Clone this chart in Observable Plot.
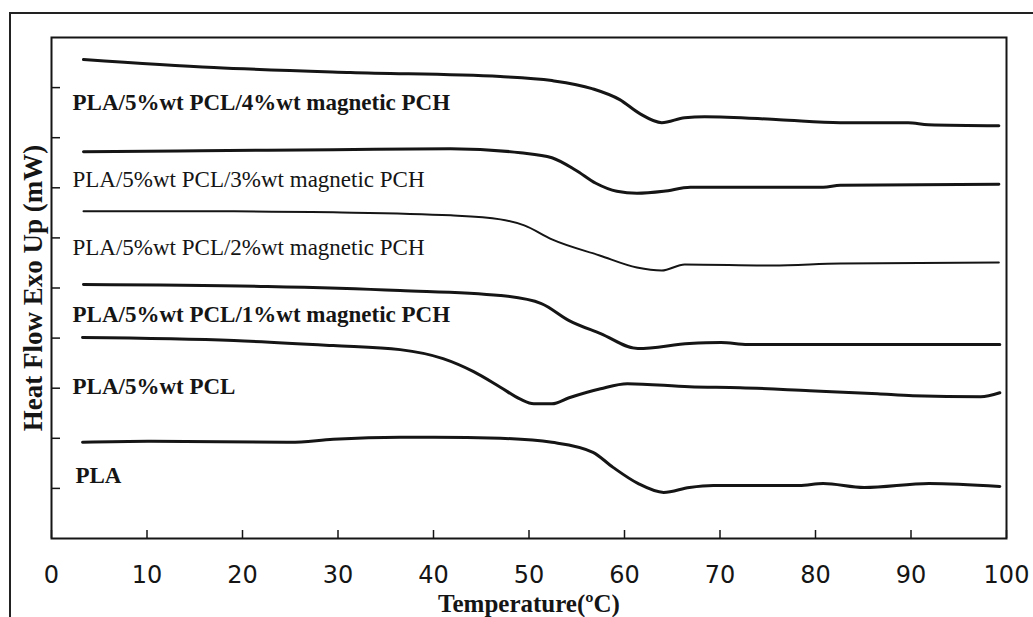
<!DOCTYPE html>
<html>
<head>
<meta charset="utf-8">
<script src="https://cdn.jsdelivr.net/npm/d3@7"></script>
<script src="https://cdn.jsdelivr.net/npm/@observablehq/plot@0.6"></script>
<style>
  html, body { margin: 0; padding: 0; background: #fff; overflow: hidden; }
  #wrap { position: relative; width: 1033px; height: 617px; }
  #border { position: absolute; left: 9px; top: 12px; width: 1040px; height: 620px;
            border-left: 2px solid #222; border-top: 2px solid #222; }
  #chart { position: absolute; left: 0; top: 0; }
  #chart svg { background: transparent; }
</style>
</head>
<body>
<div id="wrap"><div id="border"></div><div id="chart"></div></div>
<script>
// ---- data ----
const xTicks = [0, 10, 20, 30, 40, 50, 60, 70, 80, 90, 100];
const yTicks = [1, 2, 3, 4, 5, 6, 7, 8, 9];

const seriesNames = [
  "PLA/5%wt PCL/4%wt magnetic PCH",
  "PLA/5%wt PCL/3%wt magnetic PCH",
  "PLA/5%wt PCL/2%wt magnetic PCH",
  "PLA/5%wt PCL/1%wt magnetic PCH",
  "PLA/5%wt PCL",
  "PLA"
];

const t4 = [3.35, 17.0, 31.3, 47.0, 52.4, 56.6, 59.5, 61.6, 63.9, 66.3, 68.4, 76.2, 82.6, 89.7, 91.8, 99.2];
const h4 = [9.56, 9.40, 9.30, 9.22, 9.14, 8.98, 8.76, 8.48, 8.30, 8.40, 8.42, 8.36, 8.30, 8.30, 8.26, 8.24];

const t3 = [3.35, 15.6, 29.5, 41.8, 49.1, 52.4, 54.9, 57.0, 59.2, 61.3, 64.1, 66.9, 71.9, 80.8, 82.6, 99.2];
const h3 = [7.72, 7.74, 7.76, 7.78, 7.70, 7.60, 7.35, 7.09, 6.93, 6.89, 6.93, 7.01, 7.01, 7.01, 7.05, 7.07];

const t2 = [3.35, 19.1, 29.5, 41.8, 47.0, 49.5, 52.4, 57.4, 61.3, 63.9, 66.3, 75.5, 82.6, 99.2];
const h2 = [6.53, 6.53, 6.51, 6.45, 6.37, 6.25, 5.97, 5.65, 5.41, 5.35, 5.47, 5.45, 5.49, 5.51];

const t1 = [3.35, 22.6, 36.5, 47.0, 51.3, 54.2, 57.5, 61.4, 66.8, 70.1, 72.9, 99.3];
const h1 = [5.07, 5.03, 4.95, 4.85, 4.69, 4.35, 4.09, 3.79, 3.89, 3.91, 3.87, 3.87];

const t0 = [3.25, 19.1, 29.5, 36.5, 41.0, 44.2, 47.0, 49.1, 50.5, 52.4, 54.2, 57.5, 60.3, 66.8, 72.1, 79.4, 86.5, 90.2, 97.3, 99.3];
const h0 = [4.01, 3.95, 3.85, 3.77, 3.59, 3.33, 3.02, 2.78, 2.69, 2.69, 2.81, 2.99, 3.09, 3.03, 3.01, 2.95, 2.89, 2.85, 2.83, 2.91];

const tPLA = [3.25, 10.1, 25.0, 29.5, 36.5, 40.0, 47.0, 52.4, 56.7, 58.8, 61.4, 64.1, 66.8, 69.3, 78.3, 80.8, 85.1, 91.9, 99.3];
const hPLA = [1.92, 1.94, 1.92, 1.98, 2.02, 2.02, 2.00, 1.92, 1.72, 1.42, 1.10, 0.92, 1.02, 1.06, 1.06, 1.10, 1.02, 1.10, 1.04];

const labelX = [2.2, 2.2, 2.2, 2.2, 2.2, 2.5];
const labelY = [8.70, 7.17, 5.81, 4.47, 3.03, 1.26];

const xTitle = "Temperature(ºC)";
const yTitle = "Heat Flow Exo Up (mW)";

// ---- build tables ----
const curves = [[t4, h4], [t3, h3], [t2, h2], [t1, h1], [t0, h0], [tPLA, hPLA]];
const rows = curves.map(([t, h], i) => t.map((x, j) => ({series: seriesNames[i], x, y: h[j]})));
const labels = seriesNames.map((s, i) => ({text: s, x: labelX[i], y: labelY[i], i}));
const boldLabels = labels.filter(d => d.i !== 1 && d.i !== 2);
const normalLabels = labels.filter(d => d.i === 1 || d.i === 2);

const serif = "'Liberation Serif', 'Times New Roman', serif";
const ink = "#151515";

// layout
const W = 1033, H = 617, mL = 51, mR = 27, mT = 37, mB = 79;
const frameW = W - mL - mR, frameH = H - mT - mB;
const xTickLen = 8, yTickLen = 9;

const chart = Plot.plot({
  width: W,
  height: H,
  marginLeft: mL,
  marginRight: mR,
  marginTop: mT,
  marginBottom: mB,
  style: {background: "transparent", color: ink},
  x: {domain: [0, 100], axis: null},
  y: {domain: [0, 10], axis: null},
  marks: [
    Plot.frame({stroke: ink, strokeWidth: 2}),
    // inward ticks
    Plot.tickX(xTicks, {x: d => d, insetTop: frameH - xTickLen, stroke: ink, strokeWidth: 1.5}),
    Plot.tickY(yTicks, {y: d => d, insetRight: frameW - yTickLen, stroke: ink, strokeWidth: 1.5}),
    // x tick labels
    Plot.axisX({ticks: xTicks, tickSize: 0, tickPadding: 27, label: null,
      fontSize: 24, fontFamily: "'DejaVu Sans', sans-serif", fill: ink}),
    ...rows.map((r, i) => Plot.line(r, {x: "x", y: "y", stroke: ink,
      strokeWidth: i === 2 ? 2 : 3, curve: "monotone-x"})),
    Plot.text(boldLabels, {x: "x", y: "y", text: "text", textAnchor: "start",
      fontSize: 23, fontFamily: serif, fontWeight: "bold", fill: ink}),
    Plot.text(normalLabels, {x: "x", y: "y", text: "text", textAnchor: "start",
      fontSize: 23, fontFamily: serif, fontWeight: "normal", fill: ink}),
    Plot.text([yTitle], {frameAnchor: "left", dx: -18, rotate: -90, text: d => d,
      textAnchor: "middle", lineAnchor: "middle",
      fontSize: 27, fontFamily: serif, fontWeight: "bold", fill: ink}),
    Plot.text([xTitle], {frameAnchor: "bottom", dy: 65, text: d => d,
      textAnchor: "middle", lineAnchor: "middle",
      fontSize: 25, fontFamily: serif, fontWeight: "bold", fill: ink})
  ]
});
document.getElementById("chart").appendChild(chart);
</script>
</body>
</html>
